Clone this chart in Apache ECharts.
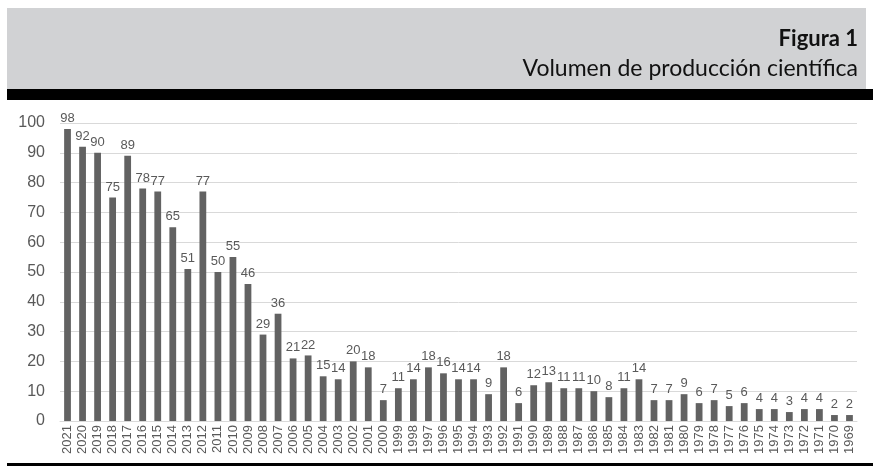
<!DOCTYPE html>
<html><head><meta charset="utf-8">
<script src="https://cdn.jsdelivr.net/npm/echarts@6/dist/echarts.min.js"></script>
<style>html,body{margin:0;padding:0;background:#fff}#c{width:873px;height:466px}</style>
</head><body><div id="c"></div>
<script>
const years = ["2021","2020","2019","2018","2017","2016","2015","2014","2013","2012","2011","2010","2009","2008","2007","2006","2005","2004","2003","2002","2001","2000","1999","1998","1997","1996","1995","1994","1993","1992","1991","1990","1989","1988","1987","1986","1985","1984","1983","1982","1981","1980","1979","1978","1977","1976","1975","1974","1973","1972","1971","1970","1969"];
const values = [98,92,90,75,89,78,77,65,51,77,50,55,46,29,36,21,22,15,14,20,18,7,11,14,18,16,14,14,9,18,6,12,13,11,11,10,8,11,14,7,7,9,6,7,5,6,4,4,3,4,4,2,2];
const yTicks = [0,10,20,30,40,50,60,70,80,90,100];
const titleText = "Figura 1";
const subtitleText = "Volumen de producción científica";

const chart = echarts.init(document.getElementById('c'), null, {renderer:'canvas'});
chart.setOption({
  animation:false,
  backgroundColor:'#ffffff',
  graphic:[
    {type:'rect', left:7, top:8, shape:{width:859, height:82}, style:{fill:'#d1d2d4'}, z:-1},
    {type:'rect', left:7, top:89, shape:{width:866, height:11}, style:{fill:'#000'}},
    {type:'rect', left:7, top:463, shape:{width:866, height:3}, style:{fill:'#000'}},
    {type:'text', right:15, top:28, style:{text:titleText, font:'bold 22px Lato', fill:'#111', textAlign:'right'}},
    {type:'text', right:15, top:57, style:{text:subtitleText, font:'23px Lato', fill:'#111', textAlign:'right'}}
  ],
  grid:{left:60, right:16, top:123, bottom:45},
  xAxis:{
    type:'category', data:years,
    axisLine:{lineStyle:{color:'#d9d9d9'}},
    axisTick:{show:false},
    axisLabel:{rotate:90, interval:0, color:'#595959', fontSize:13, fontFamily:'Liberation Sans', margin:4}
  },
  yAxis:{
    type:'value', min:0, max:100, interval:10,
    axisLine:{show:false}, axisTick:{show:false},
    splitLine:{lineStyle:{color:'#d9d9d9', width:1}},
    axisLabel:{color:'#595959', fontSize:16, fontFamily:'Liberation Sans', margin:15,
      formatter:v=>yTicks.includes(v)?String(v):''}
  },
  series:[{
    type:'bar', data:values, barWidth:'45%',
    itemStyle:{color:'#626262'},
    label:{show:true, position:'top', color:'#595959', fontSize:13, fontFamily:'Liberation Sans', distance:4}
  }]
});
</script></body></html>
